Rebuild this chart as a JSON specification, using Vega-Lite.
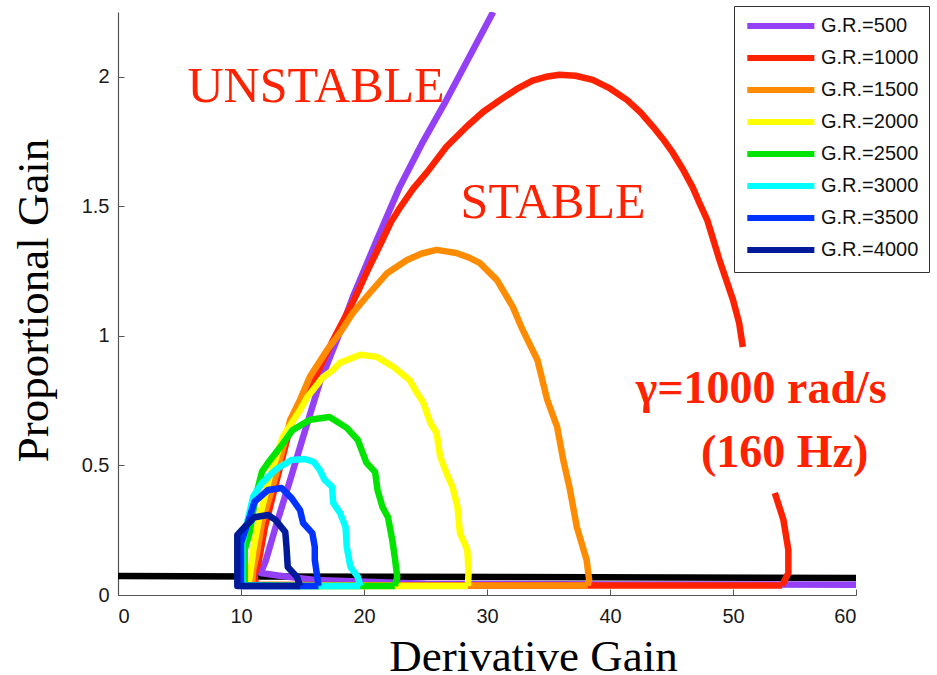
{
  "$schema": "https://vega.github.io/schema/vega-lite/v6.json",
  "width": 738,
  "height": 583,
  "autosize": {"type": "none"},
  "padding": {"left": 118, "top": 12, "right": 81, "bottom": 80},
  "background": "white",
  "config": {
    "view": {"stroke": null},
    "axis": {
      "grid": false,
      "domainColor": "#555555",
      "domainWidth": 1.2,
      "tickColor": "#555555",
      "tickSize": -6,
      "labelFont": "Liberation Sans",
      "labelFontSize": 20,
      "labelColor": "#1a1a1a",
      "titleFont": "Liberation Serif",
      "titleFontSize": 45,
      "titleFontWeight": "normal",
      "titleColor": "#000000"
    }
  },
  "datasets": {
    "base": [
      {"x": 0, "y": 0.073},
      {"x": 60, "y": 0.066}
    ],
    "labels": [
      {"t": "UNSTABLE", "x": 16.1, "y": 1.903, "w": "n"},
      {"t": "STABLE", "x": 35.37, "y": 1.456, "w": "n"},
      {"t": "γ=1000 rad/s", "x": 52.3, "y": 0.741, "w": "b"},
      {"t": "(160 Hz)", "x": 54.2, "y": 0.494, "w": "b"}
    ],
    "curves": [
      {"gr": "G.R.=500", "i": 0, "x": 60, "y": 0.04},
      {"gr": "G.R.=500", "i": 1, "x": 40, "y": 0.041},
      {"gr": "G.R.=500", "i": 2, "x": 25, "y": 0.043},
      {"gr": "G.R.=500", "i": 3, "x": 16, "y": 0.058},
      {"gr": "G.R.=500", "i": 4, "x": 13, "y": 0.075},
      {"gr": "G.R.=500", "i": 5, "x": 11.6, "y": 0.085},
      {"gr": "G.R.=500", "i": 6, "x": 12.0, "y": 0.13},
      {"gr": "G.R.=500", "i": 7, "x": 12.8, "y": 0.26},
      {"gr": "G.R.=500", "i": 8, "x": 14.0, "y": 0.445},
      {"gr": "G.R.=500", "i": 9, "x": 15.05, "y": 0.61},
      {"gr": "G.R.=500", "i": 10, "x": 16.4, "y": 0.819},
      {"gr": "G.R.=500", "i": 11, "x": 17.8, "y": 0.985},
      {"gr": "G.R.=500", "i": 12, "x": 19.1, "y": 1.151},
      {"gr": "G.R.=500", "i": 13, "x": 21.05, "y": 1.371},
      {"gr": "G.R.=500", "i": 14, "x": 22.9, "y": 1.575},
      {"gr": "G.R.=500", "i": 15, "x": 24.8, "y": 1.75},
      {"gr": "G.R.=500", "i": 16, "x": 26.7, "y": 1.91},
      {"gr": "G.R.=500", "i": 17, "x": 28.6, "y": 2.08},
      {"gr": "G.R.=500", "i": 18, "x": 30.5, "y": 2.25},

      {"gr": "G.R.=1000", "i": 0, "x": 54.0, "y": 0.037},
      {"gr": "G.R.=1000", "i": 1, "x": 40, "y": 0.037},
      {"gr": "G.R.=1000", "i": 2, "x": 25, "y": 0.037},
      {"gr": "G.R.=1000", "i": 3, "x": 11.2, "y": 0.04},
      {"gr": "G.R.=1000", "i": 4, "x": 11.1, "y": 0.08},
      {"gr": "G.R.=1000", "i": 5, "x": 11.4, "y": 0.12},
      {"gr": "G.R.=1000", "i": 6, "x": 11.95, "y": 0.263},
      {"gr": "G.R.=1000", "i": 7, "x": 13.0, "y": 0.46},
      {"gr": "G.R.=1000", "i": 8, "x": 14.0, "y": 0.649},
      {"gr": "G.R.=1000", "i": 9, "x": 14.8, "y": 0.74},
      {"gr": "G.R.=1000", "i": 10, "x": 16.2, "y": 0.857},
      {"gr": "G.R.=1000", "i": 11, "x": 17.5, "y": 0.985},
      {"gr": "G.R.=1000", "i": 12, "x": 18.9, "y": 1.112},
      {"gr": "G.R.=1000", "i": 13, "x": 19.6, "y": 1.18},
      {"gr": "G.R.=1000", "i": 14, "x": 20.2, "y": 1.243},
      {"gr": "G.R.=1000", "i": 15, "x": 21.5, "y": 1.37},
      {"gr": "G.R.=1000", "i": 16, "x": 22.2, "y": 1.44},
      {"gr": "G.R.=1000", "i": 17, "x": 23.0, "y": 1.5},
      {"gr": "G.R.=1000", "i": 18, "x": 24.0, "y": 1.568},
      {"gr": "G.R.=1000", "i": 19, "x": 25.1, "y": 1.63},
      {"gr": "G.R.=1000", "i": 20, "x": 26.7, "y": 1.73},
      {"gr": "G.R.=1000", "i": 21, "x": 28.4, "y": 1.81},
      {"gr": "G.R.=1000", "i": 22, "x": 29.7, "y": 1.865},
      {"gr": "G.R.=1000", "i": 23, "x": 31.05, "y": 1.91},
      {"gr": "G.R.=1000", "i": 24, "x": 32.4, "y": 1.952},
      {"gr": "G.R.=1000", "i": 25, "x": 33.7, "y": 1.985},
      {"gr": "G.R.=1000", "i": 26, "x": 34.8, "y": 2.0},
      {"gr": "G.R.=1000", "i": 27, "x": 35.9, "y": 2.008},
      {"gr": "G.R.=1000", "i": 28, "x": 37.2, "y": 2.004},
      {"gr": "G.R.=1000", "i": 29, "x": 38.6, "y": 1.988},
      {"gr": "G.R.=1000", "i": 30, "x": 40.0, "y": 1.955},
      {"gr": "G.R.=1000", "i": 31, "x": 41.4, "y": 1.91},
      {"gr": "G.R.=1000", "i": 32, "x": 42.5, "y": 1.862},
      {"gr": "G.R.=1000", "i": 33, "x": 43.5, "y": 1.807},
      {"gr": "G.R.=1000", "i": 34, "x": 44.3, "y": 1.76},
      {"gr": "G.R.=1000", "i": 35, "x": 45.1, "y": 1.707},
      {"gr": "G.R.=1000", "i": 36, "x": 45.9, "y": 1.645},
      {"gr": "G.R.=1000", "i": 37, "x": 46.7, "y": 1.575},
      {"gr": "G.R.=1000", "i": 38, "x": 47.3, "y": 1.51},
      {"gr": "G.R.=1000", "i": 39, "x": 47.9, "y": 1.448},
      {"gr": "G.R.=1000", "i": 40, "x": 48.9, "y": 1.293},
      {"gr": "G.R.=1000", "i": 41, "x": 50.0, "y": 1.139},
      {"gr": "G.R.=1000", "i": 42, "x": 50.5, "y": 1.05},
      {"gr": "G.R.=1000", "i": 43, "x": 50.8, "y": 0.957},
      {"gr": "G.R.=1000", "i": 44, "x": null, "y": null},
      {"gr": "G.R.=1000", "i": 45, "x": 53.4, "y": 0.394},
      {"gr": "G.R.=1000", "i": 46, "x": 54.1, "y": 0.29},
      {"gr": "G.R.=1000", "i": 47, "x": 54.5, "y": 0.174},
      {"gr": "G.R.=1000", "i": 48, "x": 54.5, "y": 0.085},
      {"gr": "G.R.=1000", "i": 49, "x": 54.0, "y": 0.037},

      {"gr": "G.R.=1500", "i": 0, "x": 38.2, "y": 0.037},
      {"gr": "G.R.=1500", "i": 1, "x": 20, "y": 0.037},
      {"gr": "G.R.=1500", "i": 2, "x": 10.9, "y": 0.04},
      {"gr": "G.R.=1500", "i": 3, "x": 11.0, "y": 0.1},
      {"gr": "G.R.=1500", "i": 4, "x": 11.3, "y": 0.162},
      {"gr": "G.R.=1500", "i": 5, "x": 11.7, "y": 0.278},
      {"gr": "G.R.=1500", "i": 6, "x": 12.7, "y": 0.44},
      {"gr": "G.R.=1500", "i": 7, "x": 13.6, "y": 0.6},
      {"gr": "G.R.=1500", "i": 8, "x": 14.0, "y": 0.676},
      {"gr": "G.R.=1500", "i": 9, "x": 14.8, "y": 0.753},
      {"gr": "G.R.=1500", "i": 10, "x": 15.6, "y": 0.842},
      {"gr": "G.R.=1500", "i": 11, "x": 17.0, "y": 0.946},
      {"gr": "G.R.=1500", "i": 12, "x": 18.05, "y": 1.012},
      {"gr": "G.R.=1500", "i": 13, "x": 19.1, "y": 1.089},
      {"gr": "G.R.=1500", "i": 14, "x": 20.2, "y": 1.151},
      {"gr": "G.R.=1500", "i": 15, "x": 21.9, "y": 1.243},
      {"gr": "G.R.=1500", "i": 16, "x": 23.5, "y": 1.293},
      {"gr": "G.R.=1500", "i": 17, "x": 24.7, "y": 1.318},
      {"gr": "G.R.=1500", "i": 18, "x": 25.9, "y": 1.332},
      {"gr": "G.R.=1500", "i": 19, "x": 27.5, "y": 1.32},
      {"gr": "G.R.=1500", "i": 20, "x": 28.5, "y": 1.303},
      {"gr": "G.R.=1500", "i": 21, "x": 29.4, "y": 1.282},
      {"gr": "G.R.=1500", "i": 22, "x": 30.8, "y": 1.216},
      {"gr": "G.R.=1500", "i": 23, "x": 32.1, "y": 1.112},
      {"gr": "G.R.=1500", "i": 24, "x": 32.9, "y": 1.023},
      {"gr": "G.R.=1500", "i": 25, "x": 34.1, "y": 0.907},
      {"gr": "G.R.=1500", "i": 26, "x": 34.9, "y": 0.753},
      {"gr": "G.R.=1500", "i": 27, "x": 35.7, "y": 0.649},
      {"gr": "G.R.=1500", "i": 28, "x": 36.2, "y": 0.521},
      {"gr": "G.R.=1500", "i": 29, "x": 36.7, "y": 0.417},
      {"gr": "G.R.=1500", "i": 30, "x": 37.3, "y": 0.263},
      {"gr": "G.R.=1500", "i": 31, "x": 38.1, "y": 0.135},
      {"gr": "G.R.=1500", "i": 32, "x": 38.3, "y": 0.06},
      {"gr": "G.R.=1500", "i": 33, "x": 38.2, "y": 0.037},

      {"gr": "G.R.=2000", "i": 0, "x": 28.45, "y": 0.035},
      {"gr": "G.R.=2000", "i": 1, "x": 15, "y": 0.035},
      {"gr": "G.R.=2000", "i": 2, "x": 10.6, "y": 0.038},
      {"gr": "G.R.=2000", "i": 3, "x": 10.8, "y": 0.1},
      {"gr": "G.R.=2000", "i": 4, "x": 11.0, "y": 0.174},
      {"gr": "G.R.=2000", "i": 5, "x": 11.4, "y": 0.278},
      {"gr": "G.R.=2000", "i": 6, "x": 12.3, "y": 0.45},
      {"gr": "G.R.=2000", "i": 7, "x": 13.4, "y": 0.61},
      {"gr": "G.R.=2000", "i": 8, "x": 14.8, "y": 0.714},
      {"gr": "G.R.=2000", "i": 9, "x": 15.4, "y": 0.764},
      {"gr": "G.R.=2000", "i": 10, "x": 16.7, "y": 0.842},
      {"gr": "G.R.=2000", "i": 11, "x": 17.5, "y": 0.869},
      {"gr": "G.R.=2000", "i": 12, "x": 18.05, "y": 0.896},
      {"gr": "G.R.=2000", "i": 13, "x": 19.7, "y": 0.927},
      {"gr": "G.R.=2000", "i": 14, "x": 21.05, "y": 0.919},
      {"gr": "G.R.=2000", "i": 15, "x": 22.4, "y": 0.88},
      {"gr": "G.R.=2000", "i": 16, "x": 23.7, "y": 0.83},
      {"gr": "G.R.=2000", "i": 17, "x": 24.3, "y": 0.78},
      {"gr": "G.R.=2000", "i": 18, "x": 24.8, "y": 0.745},
      {"gr": "G.R.=2000", "i": 19, "x": 25.4, "y": 0.664},
      {"gr": "G.R.=2000", "i": 20, "x": 25.9, "y": 0.625},
      {"gr": "G.R.=2000", "i": 21, "x": 26.2, "y": 0.533},
      {"gr": "G.R.=2000", "i": 22, "x": 26.7, "y": 0.471},
      {"gr": "G.R.=2000", "i": 23, "x": 27.2, "y": 0.417},
      {"gr": "G.R.=2000", "i": 24, "x": 27.6, "y": 0.34},
      {"gr": "G.R.=2000", "i": 25, "x": 27.8, "y": 0.239},
      {"gr": "G.R.=2000", "i": 26, "x": 28.4, "y": 0.174},
      {"gr": "G.R.=2000", "i": 27, "x": 28.5, "y": 0.085},
      {"gr": "G.R.=2000", "i": 28, "x": 28.45, "y": 0.035},

      {"gr": "G.R.=2500", "i": 0, "x": 22.5, "y": 0.035},
      {"gr": "G.R.=2500", "i": 1, "x": 15, "y": 0.035},
      {"gr": "G.R.=2500", "i": 2, "x": 10.3, "y": 0.038},
      {"gr": "G.R.=2500", "i": 3, "x": 10.3, "y": 0.174},
      {"gr": "G.R.=2500", "i": 4, "x": 10.7, "y": 0.24},
      {"gr": "G.R.=2500", "i": 5, "x": 11.2, "y": 0.38},
      {"gr": "G.R.=2500", "i": 6, "x": 11.7, "y": 0.475},
      {"gr": "G.R.=2500", "i": 7, "x": 12.2, "y": 0.51},
      {"gr": "G.R.=2500", "i": 8, "x": 13.2, "y": 0.571},
      {"gr": "G.R.=2500", "i": 9, "x": 14.2, "y": 0.637},
      {"gr": "G.R.=2500", "i": 10, "x": 15.6, "y": 0.676},
      {"gr": "G.R.=2500", "i": 11, "x": 17.2, "y": 0.687},
      {"gr": "G.R.=2500", "i": 12, "x": 18.6, "y": 0.645},
      {"gr": "G.R.=2500", "i": 13, "x": 19.5, "y": 0.598},
      {"gr": "G.R.=2500", "i": 14, "x": 19.8, "y": 0.56},
      {"gr": "G.R.=2500", "i": 15, "x": 20.2, "y": 0.51},
      {"gr": "G.R.=2500", "i": 16, "x": 20.9, "y": 0.475},
      {"gr": "G.R.=2500", "i": 17, "x": 21.1, "y": 0.405},
      {"gr": "G.R.=2500", "i": 18, "x": 21.5, "y": 0.34},
      {"gr": "G.R.=2500", "i": 19, "x": 21.95, "y": 0.3},
      {"gr": "G.R.=2500", "i": 20, "x": 22.3, "y": 0.212},
      {"gr": "G.R.=2500", "i": 21, "x": 22.5, "y": 0.147},
      {"gr": "G.R.=2500", "i": 22, "x": 22.7, "y": 0.07},
      {"gr": "G.R.=2500", "i": 23, "x": 22.5, "y": 0.035},

      {"gr": "G.R.=3000", "i": 0, "x": 19.7, "y": 0.035},
      {"gr": "G.R.=3000", "i": 1, "x": 12, "y": 0.035},
      {"gr": "G.R.=3000", "i": 2, "x": 10.1, "y": 0.038},
      {"gr": "G.R.=3000", "i": 3, "x": 10.1, "y": 0.2},
      {"gr": "G.R.=3000", "i": 4, "x": 10.6, "y": 0.3},
      {"gr": "G.R.=3000", "i": 5, "x": 11.0, "y": 0.38},
      {"gr": "G.R.=3000", "i": 6, "x": 11.7, "y": 0.432},
      {"gr": "G.R.=3000", "i": 7, "x": 12.8, "y": 0.483},
      {"gr": "G.R.=3000", "i": 8, "x": 14.1, "y": 0.521},
      {"gr": "G.R.=3000", "i": 9, "x": 15.2, "y": 0.525},
      {"gr": "G.R.=3000", "i": 10, "x": 15.9, "y": 0.514},
      {"gr": "G.R.=3000", "i": 11, "x": 16.4, "y": 0.483},
      {"gr": "G.R.=3000", "i": 12, "x": 16.8, "y": 0.444},
      {"gr": "G.R.=3000", "i": 13, "x": 17.4, "y": 0.417},
      {"gr": "G.R.=3000", "i": 14, "x": 17.5, "y": 0.355},
      {"gr": "G.R.=3000", "i": 15, "x": 18.05, "y": 0.317},
      {"gr": "G.R.=3000", "i": 16, "x": 18.5, "y": 0.263},
      {"gr": "G.R.=3000", "i": 17, "x": 18.6, "y": 0.185},
      {"gr": "G.R.=3000", "i": 18, "x": 18.9, "y": 0.108},
      {"gr": "G.R.=3000", "i": 19, "x": 19.5, "y": 0.07},
      {"gr": "G.R.=3000", "i": 20, "x": 19.7, "y": 0.035},

      {"gr": "G.R.=3500", "i": 0, "x": 16.3, "y": 0.035},
      {"gr": "G.R.=3500", "i": 1, "x": 10.0, "y": 0.035},
      {"gr": "G.R.=3500", "i": 2, "x": 10.0, "y": 0.2},
      {"gr": "G.R.=3500", "i": 3, "x": 10.7, "y": 0.3},
      {"gr": "G.R.=3500", "i": 4, "x": 11.1, "y": 0.36},
      {"gr": "G.R.=3500", "i": 5, "x": 12.2, "y": 0.405},
      {"gr": "G.R.=3500", "i": 6, "x": 13.3, "y": 0.413},
      {"gr": "G.R.=3500", "i": 7, "x": 14.1, "y": 0.375},
      {"gr": "G.R.=3500", "i": 8, "x": 14.8, "y": 0.328},
      {"gr": "G.R.=3500", "i": 9, "x": 15.05, "y": 0.278},
      {"gr": "G.R.=3500", "i": 10, "x": 15.8, "y": 0.239},
      {"gr": "G.R.=3500", "i": 11, "x": 16.0, "y": 0.185},
      {"gr": "G.R.=3500", "i": 12, "x": 16.0, "y": 0.135},
      {"gr": "G.R.=3500", "i": 13, "x": 16.2, "y": 0.07},
      {"gr": "G.R.=3500", "i": 14, "x": 16.3, "y": 0.035},

      {"gr": "G.R.=4000", "i": 0, "x": 14.8, "y": 0.035},
      {"gr": "G.R.=4000", "i": 1, "x": 9.7, "y": 0.035},
      {"gr": "G.R.=4000", "i": 2, "x": 9.7, "y": 0.232},
      {"gr": "G.R.=4000", "i": 3, "x": 10.3, "y": 0.263},
      {"gr": "G.R.=4000", "i": 4, "x": 11.1, "y": 0.3},
      {"gr": "G.R.=4000", "i": 5, "x": 12.2, "y": 0.309},
      {"gr": "G.R.=4000", "i": 6, "x": 12.8, "y": 0.29},
      {"gr": "G.R.=4000", "i": 7, "x": 13.6, "y": 0.243},
      {"gr": "G.R.=4000", "i": 8, "x": 13.7, "y": 0.185},
      {"gr": "G.R.=4000", "i": 9, "x": 13.8, "y": 0.108},
      {"gr": "G.R.=4000", "i": 10, "x": 14.55, "y": 0.07},
      {"gr": "G.R.=4000", "i": 11, "x": 14.8, "y": 0.035}
    ]
  },
  "layer": [
    {
      "data": {"name": "base"},
      "mark": {"type": "line", "color": "#000000", "strokeWidth": 6.5, "clip": true},
      "encoding": {
        "x": {
          "field": "x", "type": "quantitative",
          "scale": {"domain": [0, 60], "nice": false, "zero": false},
          "axis": {
            "values": [0, 10, 20, 30, 40, 50, 60],
            "title": "Derivative Gain",
            "labelPadding": 17,
            "titleX": 415, "titleY": 75,
            "titleAlign": "center", "titleBaseline": "alphabetic"
          }
        },
        "y": {
          "field": "y", "type": "quantitative",
          "scale": {"domain": [0, 2.25], "nice": false, "zero": false},
          "axis": {
            "values": [0, 0.5, 1, 1.5, 2],
            "format": "~g",
            "title": "Proportional Gain",
            "labelPadding": 15,
            "titleX": -71, "titleY": 288,
            "titleAngle": -90,
            "titleAlign": "center", "titleBaseline": "alphabetic"
          }
        }
      }
    },
    {
      "data": {"name": "curves"},
      "mark": {"type": "line", "strokeWidth": 6.5, "clip": true, "invalid": "break-paths-show-domains", "strokeJoin": "round"},
      "encoding": {
        "x": {"field": "x", "type": "quantitative"},
        "y": {"field": "y", "type": "quantitative"},
        "order": {"field": "i", "type": "quantitative"},
        "color": {
          "field": "gr", "type": "nominal",
          "scale": {
            "domain": ["G.R.=500", "G.R.=1000", "G.R.=1500", "G.R.=2000", "G.R.=2500", "G.R.=3000", "G.R.=3500", "G.R.=4000"],
            "range": ["#9440f5", "#ff2200", "#ff8c00", "#ffff00", "#00e400", "#00ffff", "#0033ff", "#001a99"]
          },
          "legend": {
            "title": null,
            "orient": "none",
            "legendX": 616,
            "legendY": -6,
            "direction": "vertical",
            "symbolType": "M-1,0H9",
            "symbolSize": 180,
            "symbolStrokeWidth": 6,
            "labelFont": "Liberation Sans",
            "labelFontSize": 20,
            "labelColor": "#111111",
            "labelOffset": 57,
            "rowPadding": 8,
            "padding": 10,
            "strokeColor": "#333333",
            "fillColor": "white"
          }
        }
      }
    },
    {
      "data": {"name": "labels"},
      "transform": [{"filter": "datum.w === 'n'"}],
      "mark": {"type": "text", "font": "Liberation Serif", "fontSize": 50, "color": "#ff2200", "align": "center", "baseline": "alphabetic"},
      "encoding": {
        "x": {"field": "x", "type": "quantitative"},
        "y": {"field": "y", "type": "quantitative"},
        "text": {"field": "t"}
      }
    },
    {
      "data": {"name": "labels"},
      "transform": [{"filter": "datum.w === 'b'"}],
      "mark": {"type": "text", "font": "Liberation Serif", "fontSize": 46, "fontWeight": "bold", "color": "#ff2200", "align": "center", "baseline": "alphabetic"},
      "encoding": {
        "x": {"field": "x", "type": "quantitative"},
        "y": {"field": "y", "type": "quantitative"},
        "text": {"field": "t"}
      }
    }
  ]
}
